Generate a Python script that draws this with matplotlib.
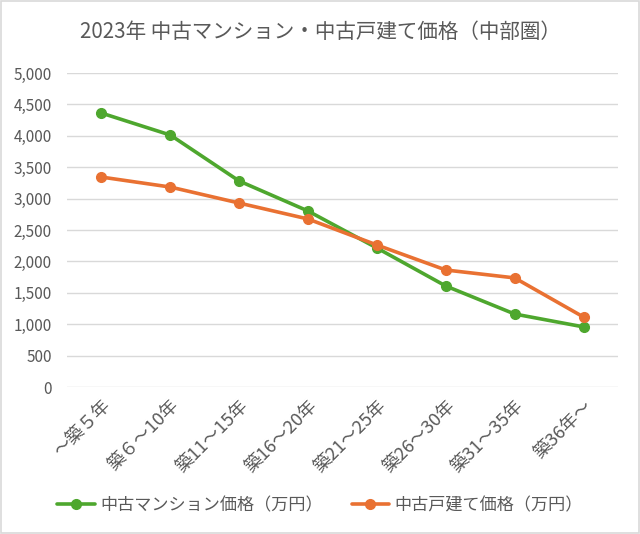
import matplotlib
matplotlib.use("Agg")
import matplotlib.pyplot as plt
from matplotlib.patches import Rectangle

plt.rcParams['font.family'] = ['Noto Sans CJK JP', 'DejaVu Sans']

title = "2023年 中古マンション・中古戸建て価格（中部圏）"
categories = ["～築５年", "築６～10年", "築11～15年", "築16～20年",
              "築21～25年", "築26～30年", "築31～35年", "築36年～"]
mansion = [4362, 4012, 3280, 2802, 2213, 1608, 1162, 957]
kodate = [3343, 3184, 2929, 2675, 2261, 1863, 1737, 1114]
series_names = ["中古マンション価格（万円）", "中古戸建て価格（万円）"]
yticks = list(range(0, 5001, 500))

green = "#4EA72E"
orange = "#E97132"
text_col = "#595959"

fig = plt.figure(figsize=(6.4, 5.34), dpi=100)
ax = fig.add_axes([67/640, 1-387/534, (618-67)/640, (387-73)/534])

x = list(range(len(categories)))
l1, = ax.plot(x, mansion, color=green, lw=2.6, marker='o', ms=7, label=series_names[0],
              solid_capstyle='round', zorder=3)
l2, = ax.plot(x, kodate, color=orange, lw=2.6, marker='o', ms=7, label=series_names[1],
              solid_capstyle='round', zorder=3)

ax.set_xlim(-0.5, len(categories)-0.5)
ax.set_ylim(0, 5000)
ax.set_yticks(yticks)
ax.set_yticklabels([f"{v:,}" for v in yticks], fontsize=11, color=text_col)
ax.set_xticks(x)
ax.set_xticklabels(categories, rotation=45, ha='right', rotation_mode='anchor',
                   fontsize=13, color=text_col)
ax.tick_params(axis='both', length=0)
ax.tick_params(axis='y', pad=11)
ax.tick_params(axis='x', pad=7)
ax.grid(axis='y', color='#D9D9D9', lw=1)
ax.set_axisbelow(True)
for s in ax.spines.values():
    s.set_visible(False)

fig.text(0.5, 1-32/534, title, ha='center', va='center', fontsize=14.8, color=text_col)

leg = fig.legend(handles=[l1, l2], loc='center', bbox_to_anchor=(0.5, 1-505/534), ncol=2,
                 frameon=False, fontsize=12.3, handlelength=2.2, handletextpad=0.3,
                 columnspacing=1.7)
for t in leg.get_texts():
    t.set_color(text_col)

fig.patches.append(Rectangle((0.001, 0.001), 0.998, 0.998, transform=fig.transFigure,
                             fill=False, edgecolor='#D9D9D9', lw=1.2))

fig.savefig("out.png", dpi=100)
